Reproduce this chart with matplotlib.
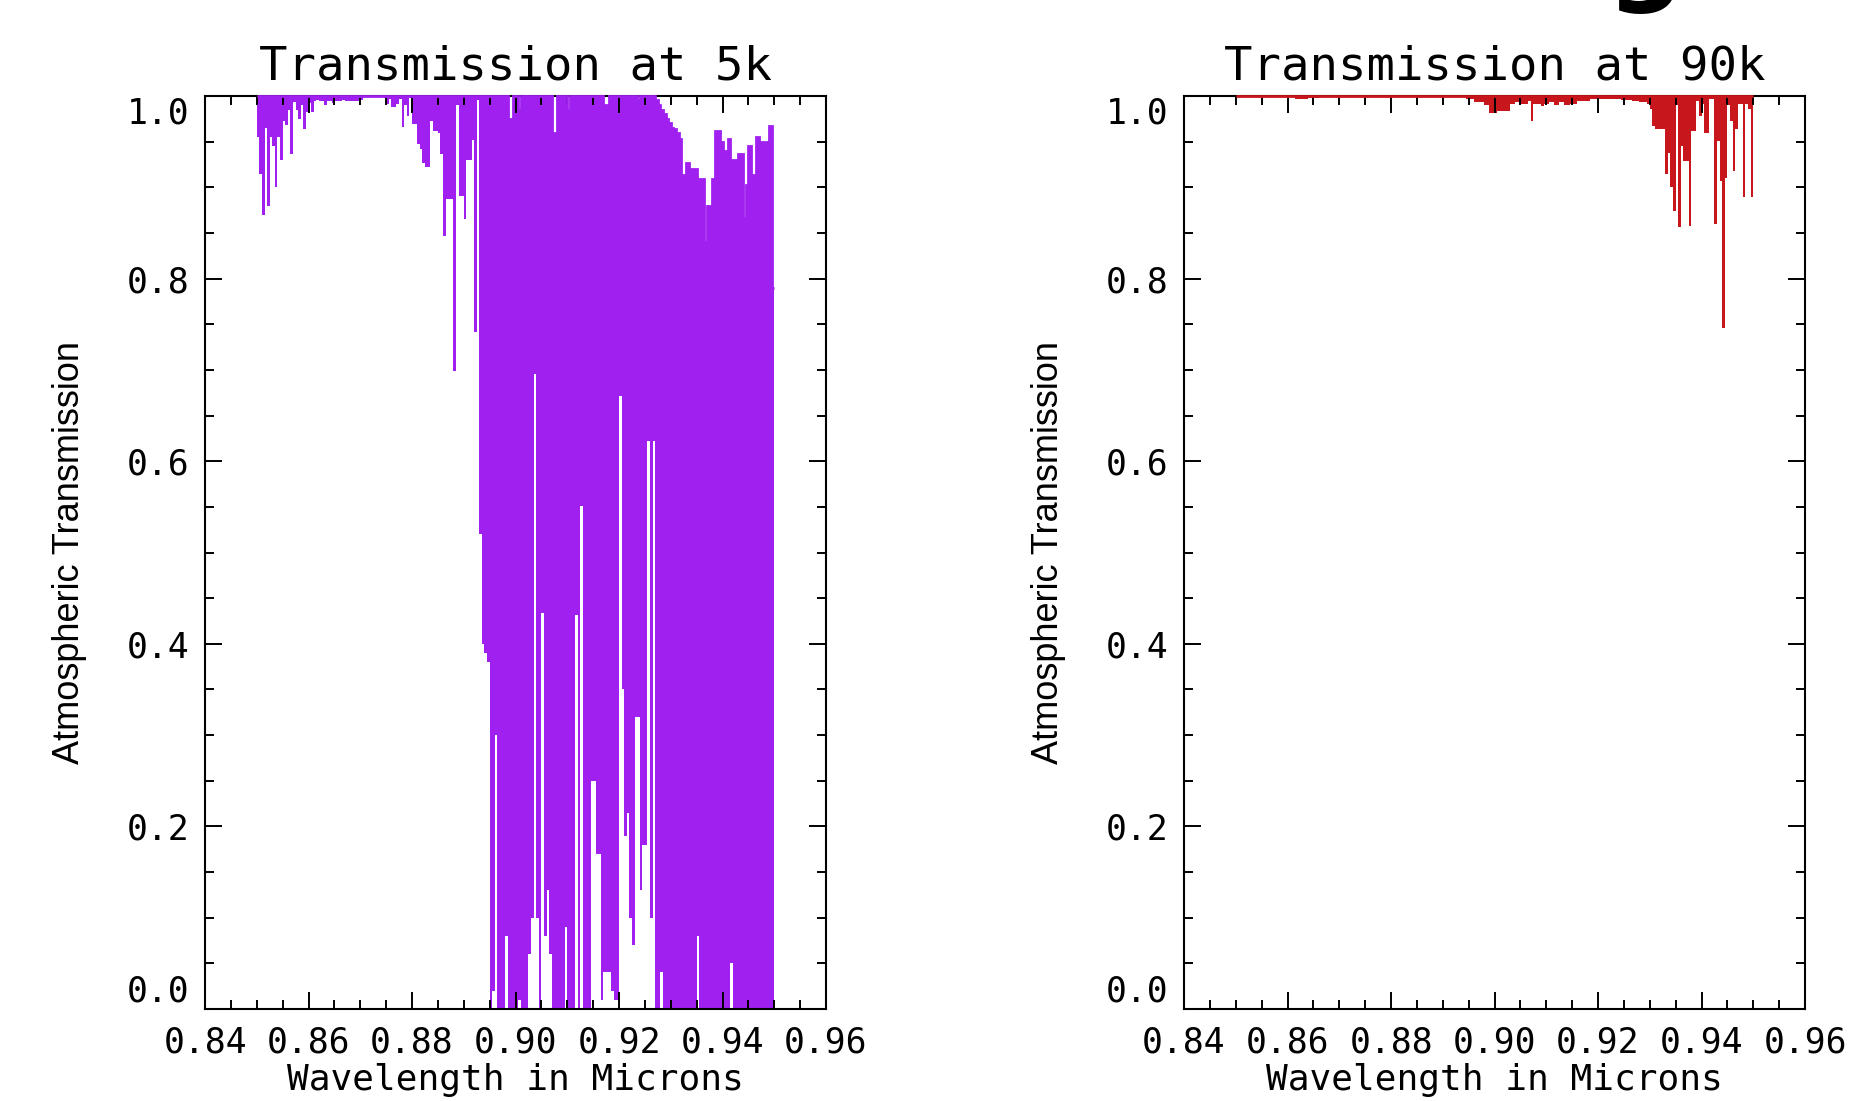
import numpy as np
import matplotlib
matplotlib.use("Agg")
import matplotlib.pyplot as plt
from matplotlib.ticker import FixedLocator, MultipleLocator

# ---------------- data ----------------
wl_start = 0.850      # microns, first sample bin edge
wl_step = 0.0005      # microns, bin width

# 5k: per-bin minimum / maximum transmission
trans5k_min = [
    0.955, 0.915, 0.870, 0.965, 0.880, 0.955, 0.945, 0.900, 0.955, 0.930,
    0.973, 0.968, 0.985, 0.937, 0.993, 0.985, 0.975, 0.990, 0.964, 0.982,
    0.992, 0.982, 0.995, 0.996, 0.994, 0.994, 0.990, 0.994, 0.994, 0.992,
    0.994, 0.994, 0.994, 0.996, 0.994, 0.994, 0.994, 0.995, 0.995, 0.995,
    0.996, 0.999, 0.999, 0.999, 0.999, 0.999, 0.999, 0.999, 0.999, 0.998,
    0.991, 0.997, 0.988, 0.988, 0.991, 0.997, 0.966, 0.990, 0.978, 0.998,
    0.969, 0.969, 0.947, 0.942, 0.927, 0.922, 0.922, 0.973, 0.962, 0.962,
    0.960, 0.936, 0.847, 0.887, 0.887, 0.887, 0.699, 0.990, 0.890, 0.890,
    0.865, 0.930, 0.930, 0.952, 0.741, 0.996, 0.520, 0.400, 0.390, 0.380,
    0.000, 0.020, 0.300, 0.000, 0.000, 0.000, 0.080, 0.000, 0.000, 0.000,
    0.000, 0.010, 0.000, 0.000, 0.000, 0.060, 0.100, 0.696, 0.100, 0.000,
    0.434, 0.080, 0.130, 0.060, 0.000, 0.000, 0.000, 0.000, 0.000, 0.090,
    0.000, 0.000, 0.000, 0.432, 0.000, 0.551, 0.000, 0.000, 0.000, 0.250,
    0.250, 0.170, 0.170, 0.010, 0.040, 0.040, 0.040, 0.020, 0.010, 0.010,
    0.671, 0.350, 0.190, 0.215, 0.100, 0.070, 0.320, 0.320, 0.130, 0.180,
    0.180, 0.622, 0.100, 0.622, 0.000, 0.000, 0.040, 0.000, 0.000, 0.000,
    0.000, 0.000, 0.000, 0.000, 0.000, 0.000, 0.000, 0.000, 0.000, 0.000,
    0.080, 0.000, 0.000, 0.000, 0.000, 0.000, 0.000, 0.000, 0.000, 0.000,
    0.000, 0.000, 0.000, 0.050, 0.000, 0.000, 0.000, 0.000, 0.000, 0.000,
    0.000, 0.000, 0.000, 0.000, 0.000, 0.000, 0.000, 0.000, 0.000, 0.000,
]
trans5k_max = [
    1.0, 1.0, 1.0, 1.0, 1.0, 1.0, 1.0, 1.0, 1.0, 1.0,
    1.0, 1.0, 1.0, 1.0, 1.0, 1.0, 1.0, 1.0, 1.0, 1.0,
    1.0, 1.0, 1.0, 1.0, 1.0, 1.0, 1.0, 1.0, 1.0, 1.0,
    1.0, 1.0, 1.0, 1.0, 1.0, 1.0, 1.0, 1.0, 1.0, 1.0,
    1.0, 1.0, 1.0, 1.0, 1.0, 1.0, 1.0, 1.0, 1.0, 1.0,
    1.0, 1.0, 1.0, 1.0, 1.0, 1.0, 1.0, 1.0, 1.0, 1.0,
    1.0, 1.0, 1.0, 1.0, 1.0, 1.0, 1.0, 1.0, 1.0, 1.0,
    1.0, 1.0, 1.0, 1.0, 1.0, 1.0, 1.0, 1.0, 1.0, 1.0,
    1.0, 1.0, 1.0, 1.0, 1.0, 1.0, 1.0, 1.0, 1.0, 1.0,
    1.0, 1.0, 1.0, 1.0, 1.0, 1.0, 1.0, 0.975, 0.975, 1.0,
    1.0, 0.985, 1.0, 1.0, 0.981, 1.0, 1.0, 1.0, 1.0, 1.0,
    1.0, 1.0, 1.0, 1.0, 0.960, 0.960, 1.0, 1.0, 1.0, 1.0,
    0.985, 1.0, 1.0, 1.0, 1.0, 1.0, 0.982, 1.0, 1.0, 1.0,
    1.0, 0.962, 1.0, 1.0, 0.990, 0.990, 1.0, 1.0, 1.0, 1.0,
    1.0, 1.0, 1.0, 1.0, 1.0, 1.0, 1.0, 0.996, 1.0, 1.0,
    1.0, 1.0, 1.0, 1.0, 0.996, 0.990, 0.985, 0.980, 0.975, 0.970,
    0.965, 0.964, 0.960, 0.953, 0.914, 0.843, 0.927, 0.765, 0.920, 0.920,
    0.820, 0.909, 0.909, 0.840, 0.880, 0.830, 0.909, 0.962, 0.962, 0.950,
    0.914, 0.940, 0.953, 0.930, 0.930, 0.930, 0.937, 0.937, 0.866, 0.903,
    0.945, 0.914, 0.914, 0.955, 0.940, 0.950, 0.950, 0.950, 0.967, 0.790,
]

# 90k: per-bin minimum / maximum transmission
trans90k_min = [
    0.999, 0.999, 0.999, 0.999, 0.999, 0.999, 0.999, 0.999, 0.999, 0.999,
    0.999, 0.999, 0.999, 0.999, 0.999, 0.999, 0.999, 0.999, 0.999, 0.999,
    0.999, 0.999, 0.999, 0.997, 0.997, 0.997, 0.997, 0.997, 0.998, 0.998,
    0.998, 0.998, 0.999, 0.999, 0.999, 0.999, 0.999, 0.999, 0.999, 0.999,
    0.999, 0.999, 0.999, 0.999, 0.999, 0.999, 0.999, 0.999, 0.999, 0.999,
    0.999, 0.999, 0.999, 0.999, 0.999, 0.999, 0.999, 0.999, 0.999, 0.999,
    0.999, 0.999, 0.999, 0.999, 0.999, 0.999, 0.999, 0.999, 0.999, 0.999,
    0.999, 0.999, 0.999, 0.999, 0.999, 0.999, 0.999, 0.999, 0.999, 0.999,
    0.999, 0.999, 0.999, 0.999, 0.999, 0.999, 0.999, 0.999, 0.999, 0.997,
    0.997, 0.997, 0.993, 0.993, 0.993, 0.993, 0.990, 0.990, 0.981, 0.981,
    0.981, 0.984, 0.984, 0.984, 0.984, 0.984, 0.991, 0.991, 0.993, 0.993,
    0.991, 0.991, 0.991, 0.995, 0.973, 0.991, 0.991, 0.991, 0.989, 0.991,
    0.991, 0.993, 0.993, 0.990, 0.990, 0.993, 0.993, 0.990, 0.990, 0.991,
    0.991, 0.991, 0.995, 0.995, 0.995, 0.994, 0.994, 0.997, 0.997, 0.997,
    0.997, 0.997, 0.997, 0.997, 0.997, 0.997, 0.997, 0.997, 0.997, 0.996,
    0.996, 0.996, 0.996, 0.995, 0.995, 0.995, 0.993, 0.993, 0.993, 0.991,
    0.986, 0.967, 0.964, 0.964, 0.964, 0.964, 0.915, 0.938, 0.900, 0.874,
    0.990, 0.856, 0.945, 0.929, 0.929, 0.858, 0.962, 0.962, 0.995, 0.978,
    0.991, 0.960, 0.960, 0.997, 0.997, 0.860, 0.951, 0.907, 0.746, 0.910,
    0.990, 0.973, 0.918, 0.964, 0.991, 0.991, 0.889, 0.991, 0.986, 0.889,
]
trans90k_max = [
    1.0, 1.0, 1.0, 1.0, 1.0, 1.0, 1.0, 1.0, 1.0, 1.0,
    1.0, 1.0, 1.0, 1.0, 1.0, 1.0, 1.0, 1.0, 1.0, 1.0,
    1.0, 1.0, 1.0, 1.0, 1.0, 1.0, 1.0, 1.0, 1.0, 1.0,
    1.0, 1.0, 1.0, 1.0, 1.0, 1.0, 1.0, 1.0, 1.0, 1.0,
    1.0, 1.0, 1.0, 1.0, 1.0, 1.0, 1.0, 1.0, 1.0, 1.0,
    1.0, 1.0, 1.0, 1.0, 1.0, 1.0, 1.0, 1.0, 1.0, 1.0,
    1.0, 1.0, 1.0, 1.0, 1.0, 1.0, 1.0, 1.0, 1.0, 1.0,
    1.0, 1.0, 1.0, 1.0, 1.0, 1.0, 1.0, 1.0, 1.0, 1.0,
    1.0, 1.0, 1.0, 1.0, 1.0, 1.0, 1.0, 1.0, 1.0, 1.0,
    1.0, 1.0, 1.0, 1.0, 1.0, 1.0, 1.0, 1.0, 1.0, 1.0,
    1.0, 1.0, 1.0, 1.0, 1.0, 1.0, 1.0, 1.0, 1.0, 1.0,
    1.0, 1.0, 1.0, 1.0, 1.0, 1.0, 1.0, 1.0, 1.0, 1.0,
    1.0, 1.0, 1.0, 1.0, 1.0, 1.0, 1.0, 1.0, 1.0, 1.0,
    1.0, 1.0, 1.0, 1.0, 1.0, 1.0, 1.0, 1.0, 1.0, 1.0,
    1.0, 1.0, 1.0, 1.0, 1.0, 1.0, 1.0, 1.0, 1.0, 1.0,
    1.0, 1.0, 1.0, 1.0, 1.0, 1.0, 1.0, 1.0, 1.0, 1.0,
    1.0, 1.0, 1.0, 1.0, 1.0, 1.0, 1.0, 1.0, 1.0, 1.0,
    1.0, 1.0, 1.0, 1.0, 1.0, 1.0, 1.0, 1.0, 1.0, 1.0,
    1.0, 1.0, 1.0, 1.0, 1.0, 1.0, 1.0, 1.0, 1.0, 1.0,
    1.0, 1.0, 1.0, 1.0, 1.0, 1.0, 1.0, 1.0, 1.0, 1.0,
]

x_ticks = [0.84, 0.86, 0.88, 0.90, 0.92, 0.94, 0.96]
x_tick_labels = ["0.84", "0.86", "0.88", "0.90", "0.92", "0.94", "0.96"]
y_ticks = [0.0, 0.2, 0.4, 0.6, 0.8, 1.0]
y_tick_labels = ["0.0", "0.2", "0.4", "0.6", "0.8", "1.0"]
titles = ["Transmission at 5k", "Transmission at 90k"]
x_label = "Wavelength in Microns"
y_label = "Atmospheric Transmission"
corner_text = "g"

# ---------------- figure ----------------
plt.rcParams["font.family"] = ["DejaVu Sans Mono", "DejaVu Sans"]

W, H = 1850, 1101
fig = plt.figure(figsize=(W / 100, H / 100), dpi=100, facecolor="white")

panel_specs = [
    (205, trans5k_min, trans5k_max, "#A020F0"),
    (1184, trans90k_min, trans90k_max, "#C8161D"),
]
ax_w_px, top_px, bot_px = 621, 96, 1009

for k, (left_px, lo, hi, color) in enumerate(panel_specs):
    ax = fig.add_axes([left_px / W, (H - bot_px) / H, ax_w_px / W, (bot_px - top_px) / H])
    lo = np.asarray(lo)
    hi = np.asarray(hi)
    edges = wl_start + wl_step * np.arange(len(lo) + 1)

    ax.stairs(hi, edges, baseline=lo, fill=True, color=color, lw=0, zorder=2.2)
    ax.stairs(hi, edges, baseline=None, color=color, lw=2.0, zorder=3, clip_on=False)

    ax.set_xlim(0.84, 0.96)
    ax.set_ylim(0.0, 1.0)
    ax.xaxis.set_major_locator(FixedLocator(x_ticks))
    ax.set_xticklabels(x_tick_labels)
    ax.xaxis.set_minor_locator(MultipleLocator(0.005))
    ax.yaxis.set_major_locator(FixedLocator(y_ticks))
    ax.set_yticklabels(y_tick_labels)
    ax.yaxis.set_minor_locator(MultipleLocator(0.05))

    ax.set_axisbelow(False)
    ax.tick_params(which="both", direction="in", top=True, right=True,
                   width=1.4, color="black")
    ax.tick_params(which="major", length=12)
    ax.tick_params(which="minor", length=6.5)
    ax.tick_params(axis="x", which="major", pad=12, labelsize=25)
    ax.tick_params(axis="y", which="major", pad=11, labelsize=25)
    for sp in ax.spines.values():
        sp.set_linewidth(1.5)
        sp.set_color("black")

    ylabs = ax.get_yticklabels()
    ylabs[0].set_verticalalignment("bottom")
    ylabs[-1].set_verticalalignment("top")

    ax.set_title(titles[k], fontsize=34, pad=12)
    ax.set_xlabel(x_label, fontsize=26)
    ax.xaxis.set_label_coords(0.5, -0.0595)
    ax.set_ylabel(y_label, fontsize=26, family=["Liberation Sans", "DejaVu Sans"])
    ax.yaxis.set_label_coords(-0.19, 0.5)

fig.text(1645 / W, 1 + 9 / H, corner_text, fontsize=78, fontweight="bold",
         ha="center", va="baseline", family=["DejaVu Sans"])

fig.savefig("out.png", dpi=100, facecolor="white")
